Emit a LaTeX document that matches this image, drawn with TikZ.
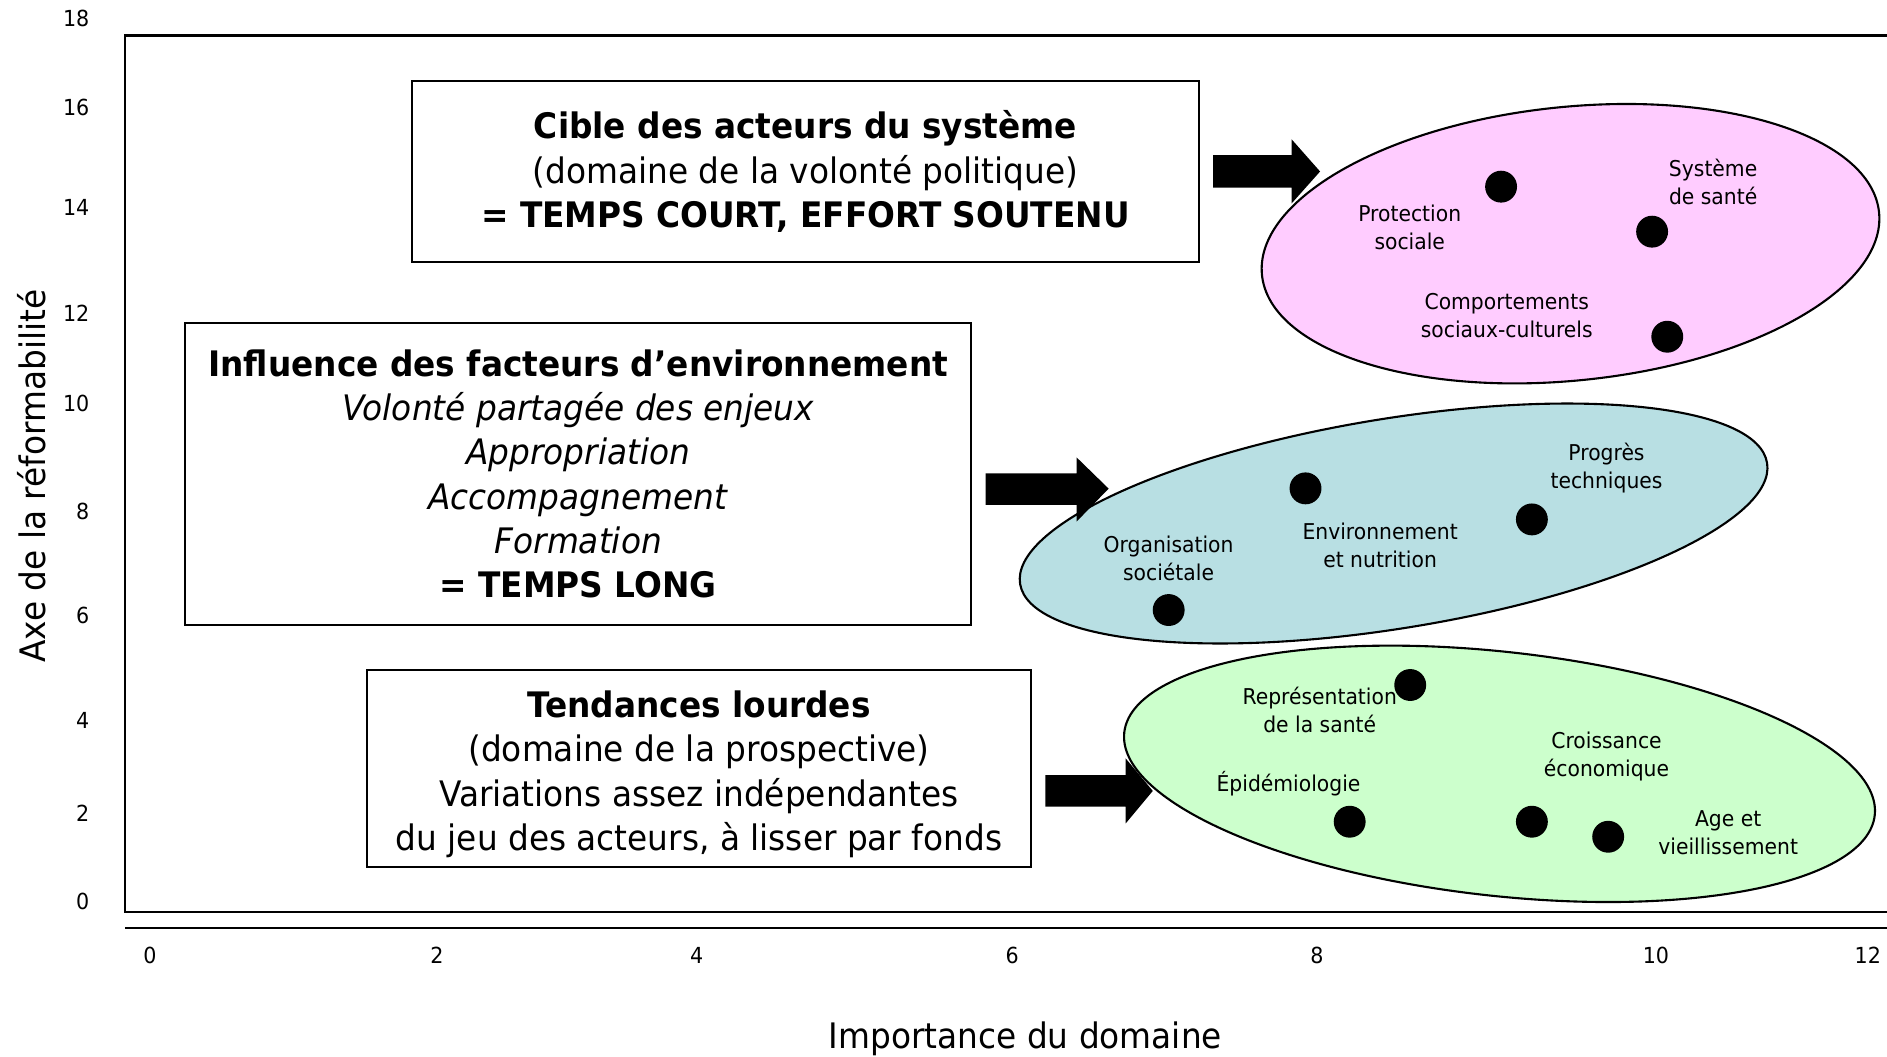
\documentclass[tikz,border=0pt]{standalone}
\usepackage{fontspec}
\setmainfont{DejaVu Sans}[FakeStretch=0.933]
\usetikzlibrary{shapes.geometric}
\definecolor{pinkfill}{HTML}{FFCCFF}
\definecolor{bluefill}{HTML}{B8DFE3}
\definecolor{greenfill}{HTML}{CCFFCC}
\newcommand{\upx}{0.012034cm}
\begin{document}
\begin{tikzpicture}[x=0.012034cm, y=-0.012034cm,
  frameline/.style={line width=0.6pt, draw=black},
  textbox/.style={draw, line width=0.6pt, align=center, inner sep=0pt, font=\fontsize{10}{12.63}\selectfont},
  boxtext/.style={align=center, inner sep=0pt, font=\fontsize{10}{12.63}\selectfont},
  zone/.style={ellipse, draw, line width=0.6pt, inner sep=0pt},
  dot/.style={circle, fill=black, inner sep=0pt, minimum size=26.5*\upx},
  lbl/.style={align=center, inner sep=0pt, font=\fontsize{6.2}{8.02}\selectfont},
  tick/.style={inner sep=0pt, font=\fontsize{6.3}{7.5}\selectfont},
  axtitle/.style={inner sep=0pt, font=\fontsize{10}{12}\selectfont},
  blockarrow/.style={fill=black}
]
\useasboundingbox (0,0) rectangle (1568,877.5);

% frame and axis
\coordinate (ftr) at (1568,29.5);
\coordinate (ftl) at (104,29.5);
\coordinate (fbl) at (104,757.8);
\coordinate (fbr) at (1568,757.8);
\coordinate (axl) at (104,770.8);
\coordinate (axr) at (1568,770.8);
\draw[frameline] (ftr) -- (ftl) -- (fbl) -- (fbr);
\draw[frameline] (axl) -- (axr);

% y ticks
\foreach \v/\yy in {18/15.6,16/89.5,14/172,12/260,10/335.5,8/425,6/511.6,4/598.3,2/676,0/749.4}
  \node[tick, anchor=east] (yt\v) at (74.8,\yy) {\v};
% x ticks
\foreach \v/\xx in {0/124.6,2/363,4/579,6/841,8/1094.3,10/1376,12/1552}
  \node[tick] (xt\v) at (\xx,793.6) {\v};

% axis titles
\node[axtitle, anchor=base] (xtitle) at (852,871) {Importance du domaine};
\node[axtitle, anchor=base, rotate=90] (ytitle) at (37.4,395.6) {Axe de la réformabilité};

% ellipses
\node[zone, fill=pinkfill, minimum width=515.4*\upx, minimum height=227.4*\upx, rotate=5.8] (epink) at (1305,202.5) {};
\node[zone, fill=bluefill, minimum width=628.8*\upx, minimum height=174.4*\upx, rotate=9.2] (eblue) at (1158,435) {};
\node[zone, fill=greenfill, minimum width=627.4*\upx, minimum height=202.8*\upx, rotate=-6.3] (egreen) at (1246,643) {};

% text boxes
\node[textbox, minimum width=653.5*\upx, minimum height=151*\upx] (box1) at (669.3,142.5)
  {{\bfseries Cible des acteurs du système}\\(domaine de la volonté politique)\\{\bfseries = TEMPS COURT, EFFORT SOUTENU}};
\node[textbox, minimum width=653.2*\upx, minimum height=251.3*\upx] (box2) at (480.5,393.8)
  {{\bfseries Influence des facteurs d’environnement}\\\textit{Volonté partagée des enjeux}\\\textit{Appropriation}\\\textit{Accompagnement}\\\textit{Formation}\\{\bfseries = TEMPS LONG}};
\node[textbox, minimum width=552.1*\upx, minimum height=163.4*\upx] (box3) at (580.8,638.5) {};
\node[boxtext] (box3text) at (580.8,643.5)
  {{\bfseries Tendances lourdes}\\(domaine de la prospective)\\Variations assez indépendantes\\du jeu des acteurs, à lisser par fonds};

% block arrows
\fill[blockarrow] (1008,128.8) -- (1073.3,128.8) -- (1073.3,115.8) -- (1096.9,142.5) -- (1073.3,169) -- (1073.3,156) -- (1008,156) -- cycle;
\fill[blockarrow] (819,393.3) -- (894.5,393.3) -- (894.5,380) -- (921.2,406) -- (894.5,433.5) -- (894.5,419.6) -- (819,419.6) -- cycle;
\fill[blockarrow] (868.6,644) -- (935.4,644) -- (935.4,630.2) -- (957.9,657.2) -- (935.4,684.2) -- (935.4,670.3) -- (868.6,670.3) -- cycle;

% pink zone
\node[dot] (dprot) at (1247.3,155.1) {};
\node[dot] (dsys) at (1372.8,192.5) {};
\node[dot] (dcomp) at (1385.4,279.8) {};
\node[lbl] (lprot) at (1171.4,188.9) {Protection\\sociale};
\node[lbl] (lsys) at (1423.5,151) {Système\\de santé};
\node[lbl] (lcomp) at (1252,262.4) {Comportements\\sociaux-culturels};

% blue zone
\node[dot] (denv) at (1084.8,405.8) {};
\node[dot] (dprog) at (1272.9,431.6) {};
\node[dot] (dorg) at (971.1,506.9) {};
\node[lbl] (lorg) at (971,464) {Organisation\\sociétale};
\node[lbl] (lenv) at (1146.8,452.9) {Environnement\\et nutrition};
\node[lbl] (lprog) at (1334.9,389.2) {Progrès\\techniques};

% green zone
\node[lbl] (lrep) at (1096.6,590) {Représentation\\de la santé};
\node[dot] (drep) at (1171.8,569.2) {};
\node[dot] (depi) at (1121.5,682.8) {};
\node[dot] (dcroi) at (1272.9,682.8) {};
\node[dot] (dage) at (1336.3,695.3) {};
\node[lbl] (lepi) at (1070.7,651.5) {Épidémiologie};
\node[lbl] (lcroi) at (1334.9,628.8) {Croissance\\économique};
\node[lbl] (lage) at (1436,692) {Age et\\vieillissement};
\end{tikzpicture}
\end{document}
